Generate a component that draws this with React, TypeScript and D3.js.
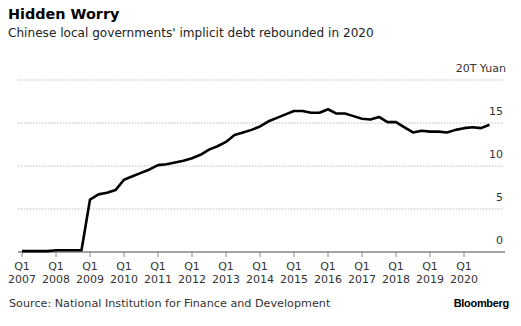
import React from "react";
import * as d3 from "d3";

const years = ["2007","2008","2009","2010","2011","2012","2013","2014","2015","2016","2017","2018","2019","2020"];
const yTicks = [0, 5, 10, 15, 20];
// quarterly implicit debt, trillion yuan, 2007Q1 .. 2020Q4
const debt = [
  0.1, 0.1, 0.1, 0.1,
  0.2, 0.2, 0.2, 0.2,
  6.1, 6.7, 6.9, 7.2,
  8.4, 8.8, 9.2, 9.6,
  10.1, 10.2, 10.4, 10.6,
  10.9, 11.3, 11.9, 12.3,
  12.8, 13.6, 13.9, 14.2,
  14.6, 15.2, 15.6, 16.0,
  16.4, 16.4, 16.2, 16.2,
  16.6, 16.1, 16.1, 15.8,
  15.5, 15.4, 15.7, 15.1,
  15.1, 14.5, 13.9, 14.1,
  14.0, 14.0, 13.9, 14.2,
  14.4, 14.5, 14.4, 14.8,
];

const W = 521, H = 326;
const FONT = "DejaVu Sans, sans-serif";

export default function App() {
  const x = d3.scaleLinear().domain([0, debt.length - 1]).range([22, 489.5]);
  const y = d3.scaleLinear().domain([0, 20]).range([252, 80]);
  const line = d3.line<number>().x((_, i) => x(i)).y((d) => y(d));
  return (
    <svg width={W} height={H} style={{ position: "absolute", left: 0, top: 0, background: "#fff" }}
      fontFamily={FONT}>
      <text x={8} y={19} fontSize={14.4} fontWeight="bold" fill="#000">Hidden Worry</text>
      <text x={8} y={37} fontSize={12.1} fill="#222">Chinese local governments' implicit debt rebounded in 2020</text>
      {yTicks.filter((t) => t > 0).map((t) => (
        <line key={t} x1={18} x2={503} y1={y(t)} y2={y(t)} stroke="#bbb" strokeWidth={1} strokeDasharray="1.5,1.5" />
      ))}
      {yTicks.map((t) => (
        <text key={t} x={t === 20 ? 506 : 503} y={y(t) - 8} fontSize={11} textAnchor="end" fill="#333">
          {t === 20 ? "20T Yuan" : String(t)}
        </text>
      ))}
      <line x1={18} x2={505} y1={y(0)} y2={y(0)} stroke="#444" strokeWidth={1} />
      {years.map((yr, k) => (
        <g key={yr} transform={`translate(${x(k * 4)},0)`}>
          <line y1={y(0)} y2={y(0) + 5} stroke="#888" strokeWidth={1} />
          <text y={270} fontSize={11} textAnchor="middle" fill="#333">Q1</text>
          <text y={283} fontSize={11} textAnchor="middle" fill="#333">{yr}</text>
        </g>
      ))}
      <path d={line(debt) || ""} fill="none" stroke="#000" strokeWidth={2.6} strokeLinejoin="round" />
      <text x={9} y={307} fontSize={11.2} fill="#333">Source: National Institution for Finance and Development</text>
      <text x={509} y={307} fontSize={11} fontWeight="bold" textAnchor="end" fill="#000"
        fontFamily="Liberation Sans, Arial, sans-serif" letterSpacing={-0.3}>Bloomberg</text>
    </svg>
  );
}
